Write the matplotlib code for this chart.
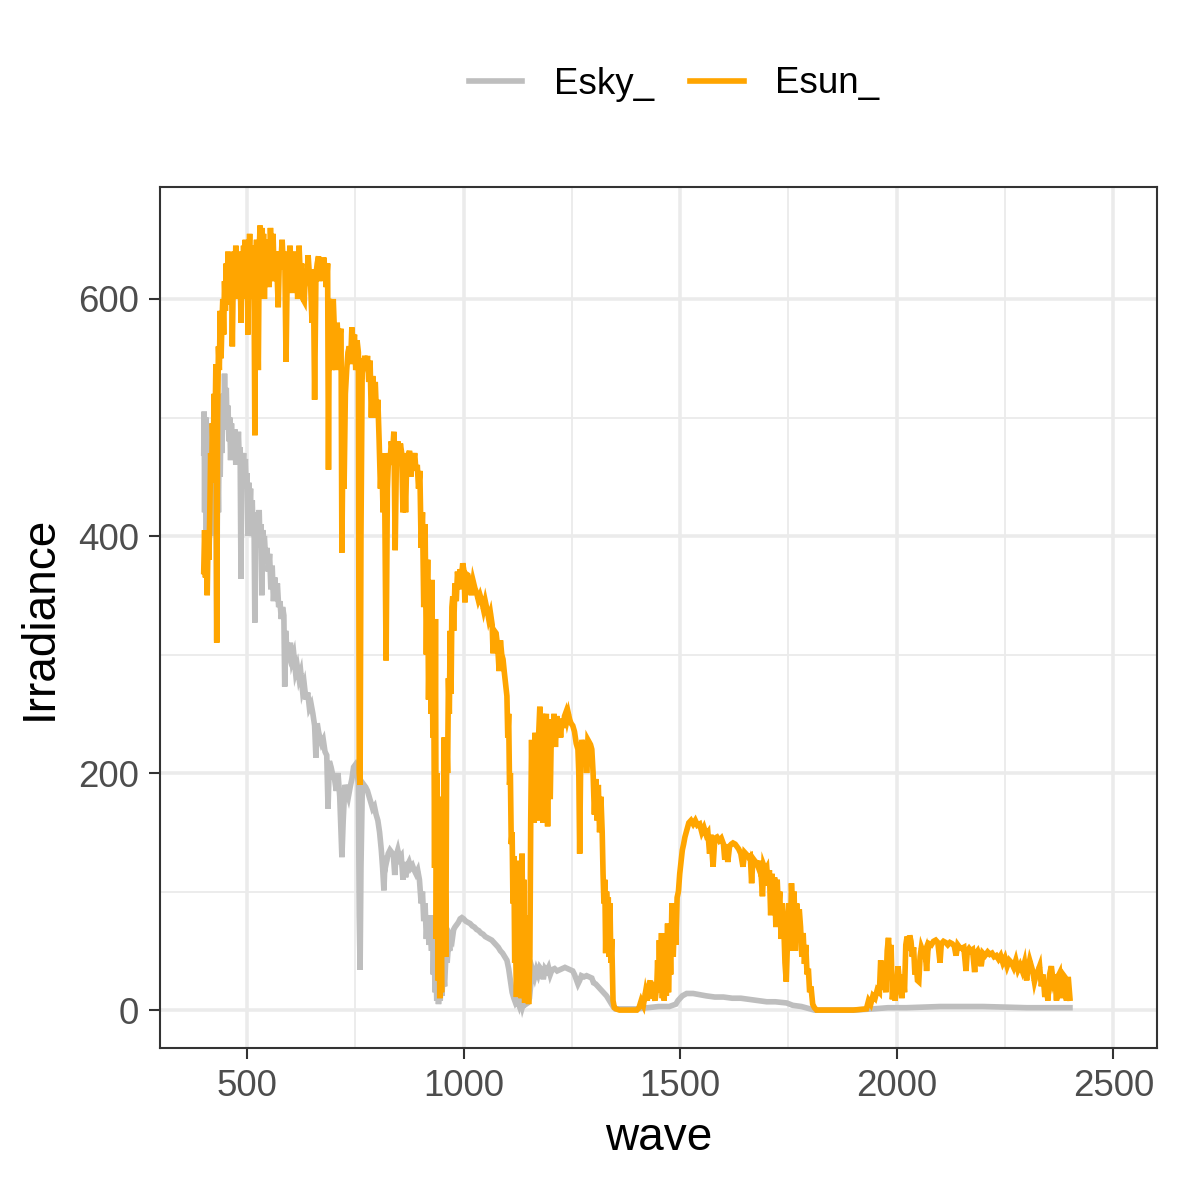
import numpy as np
import matplotlib.pyplot as plt

# Esky_ spectrum (wave, irradiance)
esky_wave = [
    400, 401, 402, 403, 404, 405, 406, 407, 408, 409, 410, 412, 414, 416, 418, 420,
    422, 424, 426, 428, 430, 432, 434, 436, 438, 440, 442, 444, 446, 448, 450, 452,
    454, 456, 458, 460, 462, 464, 466, 468, 470, 472, 474, 476, 478, 480, 482, 484,
    486, 488, 490, 492, 494, 496, 498, 500, 502, 504, 506, 508, 510, 512, 514, 516,
    518, 520, 522, 524, 526, 528, 530, 532, 534, 536, 538, 540, 543, 546, 549, 552,
    555, 558, 561, 564, 567, 570, 573, 576, 579, 582, 585, 587, 589, 592, 596, 600,
    604, 608, 612, 616, 620, 624, 628, 632, 636, 640, 644, 648, 652, 656, 659, 662,
    665, 668, 672, 676, 680, 684, 687, 690, 694, 698, 702, 706, 710, 714, 719, 722,
    726, 730, 734, 738, 742, 746, 750, 754, 757, 759, 761, 763, 766, 770, 774, 778,
    782, 786, 790, 794, 798, 802, 806, 810, 813, 816, 819, 822, 826, 830, 834, 838,
    841, 844, 848, 852, 856, 860, 863, 866, 870, 874, 878, 882, 886, 890, 894, 898,
    902, 905, 908, 911, 914, 917, 920, 923, 926, 928, 930, 932, 934, 936, 938, 940,
    942, 944, 946, 948, 950, 953, 956, 959, 962, 965, 968, 971, 974, 977, 980, 984,
    988, 992, 996, 1000, 1005, 1010, 1015, 1020, 1025, 1030, 1035, 1040, 1045, 1050,
    1055, 1060, 1065, 1070, 1075, 1080, 1085, 1090, 1095, 1100, 1104, 1108, 1112,
    1116, 1120, 1124, 1128, 1132, 1136, 1140, 1144, 1148, 1152, 1156, 1160, 1164,
    1168, 1172, 1176, 1180, 1184, 1188, 1192, 1196, 1200, 1204, 1210, 1216, 1222,
    1228, 1234, 1240, 1246, 1252, 1256, 1260, 1264, 1268, 1272, 1278, 1284, 1290,
    1296, 1300, 1305, 1310, 1315, 1320, 1325, 1330, 1335, 1340, 1345, 1350, 1400,
    1425, 1450, 1475, 1490, 1495, 1500, 1505, 1515, 1530, 1545, 1560, 1580, 1600,
    1620, 1640, 1660, 1680, 1700, 1720, 1746, 1760, 1780, 1800, 1810, 1900, 1946,
    1980, 2023, 2100, 2200, 2300, 2400,
]
esky_value = [
    470, 505, 420, 495, 440, 500, 405, 480, 430, 495, 450, 490, 420, 480, 430, 470,
    400, 465, 440, 470, 312, 470, 420, 500, 450, 510, 470, 520, 495, 537, 500, 525,
    490, 510, 480, 500, 464, 495, 470, 490, 480, 490, 460, 485, 470, 488, 465, 475,
    364, 470, 460, 470, 450, 465, 440, 453, 400, 445, 420, 440, 400, 430, 400, 420,
    327, 410, 395, 415, 400, 422, 390, 410, 350, 405, 395, 400, 380, 390, 370, 385,
    355, 375, 345, 365, 350, 360, 340, 345, 330, 340, 333, 273, 320, 305, 300, 310,
    295, 300, 285, 290, 280, 285, 270, 275, 262, 268, 255, 258, 250, 240, 213, 242,
    235, 230, 225, 228, 218, 215, 170, 210, 205, 198, 195, 185, 200, 180, 129, 160,
    190, 185, 180, 188, 195, 205, 207, 203, 190, 80, 34, 120, 185, 190, 188, 185,
    180, 175, 170, 172, 165, 160, 150, 135, 120, 101, 130, 125, 132, 135, 133, 130,
    114, 130, 135, 128, 130, 110, 125, 112, 122, 125, 120, 122, 118, 115, 118, 110,
    90, 100, 75, 90, 60, 80, 55, 70, 50, 80, 30, 60, 15, 40, 8, 20,
    5, 15, 8, 25, 12, 35, 20, 45, 40, 55, 50, 62, 60, 68, 70, 72,
    74, 77, 78, 77, 75, 74, 73, 71, 70, 68, 67, 65, 64, 62,
    61, 60, 59, 57, 55, 53, 50, 48, 45, 42, 35, 25, 15,
    10, 6, 8, 4, 10, 3, 8, 5, 6, 10, 25, 33, 28,
    34, 30, 36, 34, 26, 35, 33, 36, 30, 34, 35, 33, 34,
    35, 36, 35, 34, 33, 30, 26, 22, 25, 29, 28, 29, 28,
    27, 23, 22, 20, 18, 16, 14, 12, 9, 6, 3, 1, 1,
    2, 3, 3, 5, 8, 10, 12, 14, 14, 13, 12, 11, 11,
    10, 10, 9, 8, 7, 7, 6, 4, 3, 1, 0, 0, 1,
    2, 2, 3, 3, 2, 2,
]

# Esun_ spectrum (wave, irradiance)
esun_wave = [
    400, 402, 404, 406, 408, 410, 412, 414, 416, 418, 420, 422, 424, 426, 428, 430,
    432, 434, 436, 438, 440, 442, 444, 446, 448, 450, 452, 454, 456, 458, 460, 462,
    464, 466, 468, 470, 472, 474, 476, 478, 480, 482, 484, 486, 488, 490, 492, 494,
    496, 498, 500, 502, 504, 506, 508, 510, 512, 514, 516, 518, 520, 522, 524, 526,
    528, 530, 532, 534, 536, 538, 540, 542, 545, 548, 551, 554, 557, 560, 563, 566,
    569, 572, 575, 578, 581, 584, 587, 590, 593, 596, 599, 602, 605, 608, 611, 614,
    617, 620, 623, 626, 629, 632, 635, 638, 641, 644, 647, 650, 653, 656, 659, 662,
    665, 668, 671, 674, 677, 680, 683, 686, 688, 690, 693, 696, 699, 702, 705, 708,
    711, 714, 717, 719, 721, 724, 727, 730, 733, 736, 739, 742, 745, 748, 751, 754,
    757, 759, 761, 763, 766, 769, 772, 775, 778, 781, 784, 787, 790, 793, 796, 799,
    802, 805, 808, 811, 814, 817, 821, 824, 827, 830, 833, 836, 839, 842, 845, 848,
    851, 854, 857, 860, 863, 866, 869, 872, 875, 878, 881, 884, 887, 890, 893, 896,
    899, 902, 905, 908, 911, 914, 917, 919, 922, 925, 927, 929, 931, 933, 935, 937,
    939, 941, 943, 945, 947, 949, 951, 953, 955, 957, 959, 961, 963, 965, 967, 969,
    971, 973, 975, 977, 980, 983, 986, 989, 992, 995, 998, 1001, 1003, 1006, 1010,
    1014, 1018, 1022, 1026, 1030, 1034, 1038, 1042, 1046, 1050, 1054, 1058, 1062,
    1066, 1068, 1071, 1075, 1079, 1082, 1085, 1088, 1091, 1094, 1097, 1100, 1102,
    1104, 1106, 1108, 1110, 1112, 1114, 1116, 1118, 1120, 1122, 1125, 1127, 1129,
    1131, 1133, 1135, 1137, 1139, 1141, 1143, 1145, 1147, 1150, 1153, 1155, 1157,
    1159, 1161, 1163, 1165, 1167, 1169, 1171, 1173, 1176, 1178, 1180, 1183, 1185,
    1188, 1191, 1194, 1197, 1200, 1203, 1206, 1209, 1212, 1215, 1218, 1221, 1224,
    1227, 1230, 1233, 1236, 1239, 1242, 1245, 1248, 1252, 1256, 1260, 1264, 1266,
    1268, 1270, 1273, 1276, 1279, 1282, 1284, 1287, 1290, 1293, 1296, 1299, 1302,
    1305, 1308, 1311, 1314, 1317, 1320, 1322, 1324, 1326, 1328, 1330, 1332, 1334,
    1336, 1338, 1340, 1342, 1345, 1348, 1352, 1360, 1380, 1400, 1405, 1410, 1415,
    1420, 1424, 1428, 1431, 1434, 1438, 1442, 1446, 1448, 1450, 1452, 1454, 1457,
    1459, 1461, 1463, 1466, 1468, 1471, 1473, 1476, 1478, 1481, 1484, 1487, 1490,
    1493, 1496, 1499, 1502, 1505, 1508, 1511, 1514, 1517, 1520, 1525, 1530, 1535,
    1540, 1545, 1550, 1555, 1560, 1564, 1568, 1571, 1576, 1580, 1585, 1590, 1595,
    1600, 1603, 1606, 1610, 1614, 1618, 1622, 1627, 1631, 1635, 1640, 1645, 1649,
    1654, 1658, 1662, 1665, 1668, 1672, 1677, 1681, 1685, 1690, 1693, 1697, 1700,
    1703, 1706, 1709, 1712, 1715, 1718, 1721, 1724, 1727, 1730, 1733, 1736, 1739,
    1742, 1745, 1748, 1751, 1754, 1757, 1760, 1763, 1766, 1769, 1772, 1775, 1778,
    1781, 1784, 1787, 1790, 1793, 1796, 1799, 1802, 1806, 1810, 1815, 1850, 1900,
    1930, 1935, 1940, 1945, 1950, 1955, 1960, 1963, 1966, 1969, 1972, 1975, 1978,
    1981, 1984, 1987, 1990, 1993, 1996, 1999, 2003, 2006, 2009, 2012, 2015, 2018,
    2021, 2024, 2027, 2030, 2033, 2036, 2039, 2042, 2045, 2048, 2051, 2054, 2057,
    2060, 2063, 2066, 2069, 2072, 2075, 2080, 2085, 2090, 2095, 2100, 2103, 2108,
    2113, 2118, 2123, 2128, 2133, 2137, 2141, 2145, 2150, 2155, 2160, 2163, 2167,
    2171, 2175, 2180, 2183, 2187, 2191, 2195, 2199, 2204, 2210, 2215, 2220, 2225,
    2230, 2235, 2240, 2245, 2250, 2255, 2260, 2265, 2270, 2275, 2280, 2285, 2290,
    2295, 2300, 2303, 2307, 2310, 2314, 2318, 2322, 2326, 2330, 2334, 2338, 2342,
    2345, 2349, 2353, 2357, 2361, 2365, 2369, 2372, 2376, 2380, 2384, 2388, 2392,
    2396, 2400,
]
esun_value = [
    370, 405, 365, 395, 350, 400, 380, 420, 470, 445, 495, 470, 520, 490, 545, 310,
    500, 560, 540, 590, 550, 580, 600, 570, 615, 590, 630, 600, 640, 610, 625, 595,
    630, 560, 615, 640, 600, 645, 620, 635, 600, 640, 625, 580, 630, 610, 645, 620,
    650, 600, 640, 570, 630, 655, 610, 645, 600, 635, 620, 485, 630, 650, 600, 540,
    640, 662, 640, 660, 620, 655, 600, 640, 625, 650, 610, 660, 630, 655, 615, 640,
    625, 593, 640, 630, 650, 625, 640, 547, 630, 620, 645, 625, 605, 640, 615, 630,
    600, 645, 620, 630, 600, 598, 625, 615, 637, 620, 610, 580, 625, 515, 620, 630,
    636, 615, 632, 620, 635, 625, 610, 630, 456, 600, 590, 540, 600, 570, 540, 580,
    560, 570, 575, 386, 470, 440, 520, 540, 555, 560, 545, 576, 560, 570, 540, 565,
    555, 200, 190, 400, 550, 545, 552, 540, 552, 530, 548, 500, 535, 520, 530, 500,
    515, 480, 440, 470, 420, 470, 295, 440, 470, 460, 480, 470, 488, 388, 470, 480,
    460, 478, 470, 420, 465, 420, 470, 465, 472, 450, 468, 462, 470, 455, 460, 440,
    455, 390, 420, 340, 410, 300, 380, 262, 340, 250, 363, 230, 290, 120, 330, 60,
    200, 25, 120, 10, 90, 15, 180, 60, 230, 120, 45, 230, 200, 280, 250, 320,
    267, 340, 349, 320, 360, 345, 370, 355, 372, 365, 377, 370, 344, 368, 367,
    360, 350, 362, 356, 352, 346, 350, 345, 338, 345, 338, 330, 335,
    325, 301, 320, 318, 305, 286, 312, 300, 296, 285, 275, 265, 230,
    250, 190, 200, 140, 150, 90, 130, 40, 60, 11, 60, 126, 20,
    90, 10, 132, 30, 110, 6, 80, 10, 40, 5, 45, 160, 228,
    170, 220, 158, 234, 200, 225, 160, 230, 256, 240, 250, 158, 245,
    240, 250, 155, 245, 178, 245, 230, 250, 222, 248, 240, 244, 230,
    246, 238, 248, 251, 245, 250, 245, 242, 240, 235, 225, 220, 200,
    132, 200, 228, 222, 220, 225, 200, 228, 226, 224, 220, 200, 165,
    195, 160, 190, 150, 180, 150, 115, 90, 110, 48, 100, 80, 95,
    45, 90, 40, 60, 8, 2, 1, 0, 0, 0, 2, 8, 4,
    15, 8, 20, 25, 10, 15, 8, 20, 42, 15, 59, 20, 65,
    10, 55, 8, 40, 12, 73, 15, 60, 30, 90, 45, 80, 55,
    95, 100, 115, 125, 135, 140, 146, 150, 154, 158, 160, 157, 160,
    156, 157, 150, 154, 148, 150, 132, 148, 121, 145, 146, 143, 145,
    140, 127, 140, 125, 138, 140, 141, 140, 138, 136, 132, 121, 133,
    131, 129, 130, 107, 128, 126, 124, 120, 126, 96, 122, 118, 120,
    105, 118, 80, 115, 95, 112, 70, 110, 85, 100, 60, 90, 74,
    40, 24, 60, 90, 50, 107, 80, 100, 50, 90, 60, 85, 70,
    45, 65, 39, 55, 30, 35, 15, 20, 5, 2, 0, 0, 0,
    1, 8, 5, 12, 10, 17, 15, 42, 30, 17, 30, 15, 50,
    61, 40, 55, 9, 20, 8, 15, 37, 25, 30, 10, 30, 15,
    55, 62, 50, 63, 58, 45, 53, 30, 40, 25, 24, 45, 53,
    50, 47, 50, 33, 50, 56, 55, 58, 59, 57, 40, 56, 58,
    57, 55, 57, 56, 54, 46, 55, 53, 52, 53, 33, 50, 52,
    50, 51, 32, 48, 50, 46, 37, 48, 46, 49, 47, 48, 45,
    46, 43, 46, 40, 44, 37, 42, 40, 36, 42, 34, 38, 33,
    40, 25, 35, 42, 38, 33, 24, 30, 33, 37, 20, 30, 11,
    25, 8, 30, 37, 25, 30, 8, 28, 31, 10, 30, 28, 8,
    28, 10,
]

series_names = ["Esky_", "Esun_"]
series_colors = ["#BEBEBE", "#FFA500"]
x_ticks = [500, 1000, 1500, 2000, 2500]
y_ticks = [0, 200, 400, 600]


def main():
    plt.rcParams['font.family'] = ['Liberation Sans', 'DejaVu Sans']

    fig = plt.figure(figsize=(1181 / 300, 1181 / 300), dpi=300)
    ax = fig.add_axes([160 / 1181, 1 - 1048 / 1181, 997 / 1181, 861 / 1181])

    ax.plot(esky_wave, esky_value, color=series_colors[0], lw=1.35,
            label=series_names[0], solid_joinstyle='miter')
    ax.plot(esun_wave, esun_value, color=series_colors[1], lw=1.35,
            label=series_names[1], solid_joinstyle='miter')

    ax.set_xlim(299, 2601)
    ax.set_ylim(-32, 694.5)
    ax.set_xticks(x_ticks)
    ax.set_yticks(y_ticks)
    ax.set_xticks([750, 1250, 1750, 2250], minor=True)
    ax.set_yticks([100, 300, 500], minor=True)

    ax.grid(True, which='major', color='#EBEBEB', lw=0.85)
    ax.grid(True, which='minor', color='#EBEBEB', lw=0.45)
    ax.set_axisbelow(True)
    ax.tick_params(which='major', length=2.75, width=0.5, color='#333333',
                   labelsize=8.8, labelcolor='#4D4D4D', pad=2.2)
    ax.tick_params(which='minor', length=0)
    for s in ax.spines.values():
        s.set_color('#333333')
        s.set_linewidth(0.5)

    ax.set_xlabel('wave', fontsize=11, labelpad=3)
    ax.set_ylabel('Irradiance', fontsize=11, labelpad=4)

    fig.legend(loc='center', bbox_to_anchor=(674 / 1181, 1 - 84 / 1181),
               ncol=2, frameon=False, fontsize=8.8, handlelength=1.45,
               handletextpad=0.85, columnspacing=1.0)

    fig.savefig('out.png', dpi=300, facecolor='white')


if __name__ == '__main__':
    main()
